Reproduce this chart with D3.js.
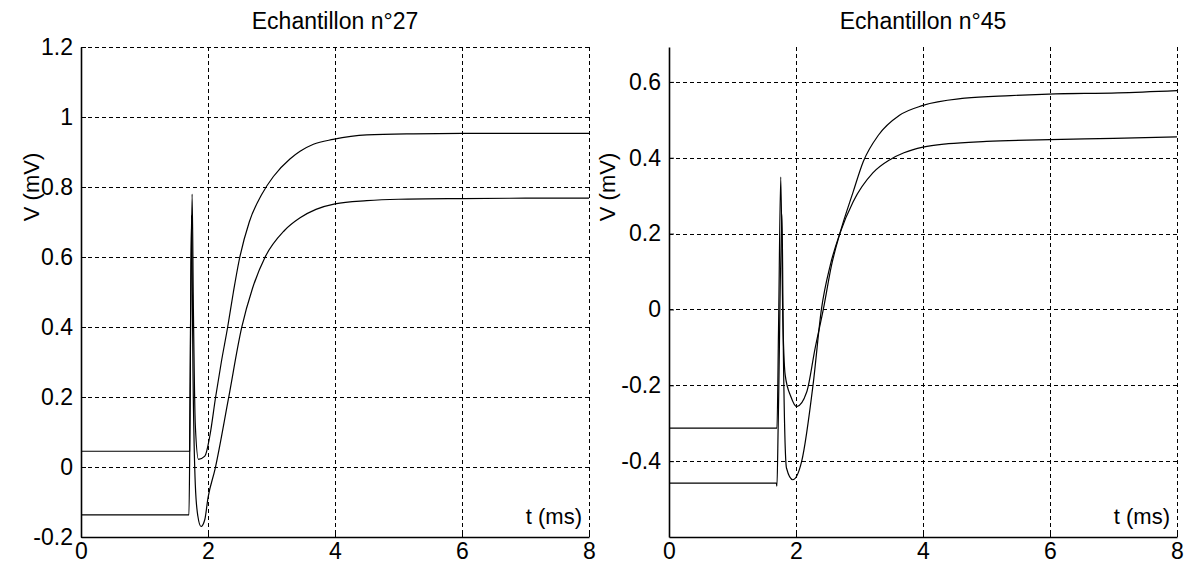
<!DOCTYPE html>
<html>
<head>
<meta charset="utf-8">
<script src="https://cdn.jsdelivr.net/npm/d3@7"></script>
<style>
  html, body { margin: 0; padding: 0; background: #fff; }
  svg { display: block; }
  text { font-family: "Liberation Sans", Arial, Helvetica, sans-serif; fill: #000; }
</style>
</head>
<body>
<svg id="chart" width="1189" height="570"></svg>
<script>
// ---------- DATA ----------
const titles = ["Echantillon n°27", "Echantillon n°45"];
const xLabel = "t (ms)";
const yLabel = "V (mV)";
const xTicks = [0, 2, 4, 6, 8];
const leftYTicks = [-0.2, 0, 0.2, 0.4, 0.6, 0.8, 1, 1.2];
const rightYTicks = [-0.4, -0.2, 0, 0.2, 0.4, 0.6];
const xDomain = [0, 8];
const leftYDomain = [-0.2, 1.2];
const rightYDomain = [-0.6, 0.692];

// Left panel (n°27) - upper curve
const leftUpperT = [0, 1.71, 1.725, 1.75, 1.77, 1.80, 1.85, 1.95, 2.03, 2.12, 2.21, 2.31, 2.40, 2.49, 2.65, 2.85, 3.03, 3.29, 3.45, 3.66, 3.97, 4.5, 5.23, 6.0, 6.91, 8.0];
const leftUpperV = [0.045, 0.045, 0.40, 0.78, 0.45, 0.12, 0.022, 0.031, 0.09, 0.20, 0.30, 0.40, 0.50, 0.59, 0.70, 0.78, 0.83, 0.88, 0.902, 0.922, 0.936, 0.949, 0.952, 0.953, 0.953, 0.953];
// Left panel (n°27) - lower curve
const leftLowerT = [0, 1.70, 1.715, 1.74, 1.765, 1.80, 1.84, 1.89, 1.95, 2.00, 2.11, 2.32, 2.53, 2.70, 2.90, 3.20, 3.45, 3.70, 4.0, 4.5, 5.0, 6.0, 7.0, 8.0];
const leftLowerV = [-0.137, -0.137, 0.10, 0.72, 0.25, -0.05, -0.14, -0.17, -0.15, -0.088, -0.007, 0.193, 0.398, 0.51, 0.60, 0.675, 0.712, 0.736, 0.752, 0.761, 0.765, 0.767, 0.768, 0.768];
// Right panel (n°45) - upper curve
const rightUpperT = [0, 1.70, 1.725, 1.76, 1.79, 1.83, 1.92, 2.01, 2.17, 2.30, 2.43, 2.56, 2.69, 2.90, 3.06, 3.30, 3.63, 4.0, 4.66, 5.38, 5.98, 7.07, 8.0];
const rightUpperV = [-0.313, -0.313, -0.05, 0.349, 0.0, -0.173, -0.23, -0.256, -0.217, -0.103, 0, 0.117, 0.20, 0.31, 0.39, 0.46, 0.512, 0.538, 0.557, 0.564, 0.568, 0.571, 0.577];
// Right panel (n°45) - lower curve
const rightLowerT = [0, 1.69, 1.70, 1.72, 1.78, 1.80, 1.85, 1.95, 2.09, 2.27, 2.40, 2.54, 2.69, 2.90, 3.21, 3.48, 3.70, 4.0, 4.4, 5.0, 6.0, 7.0, 8.0];
const rightLowerV = [-0.458, -0.458, -0.466, -0.30, 0.25, -0.10, -0.418, -0.449, -0.40, -0.197, 0, 0.117, 0.20, 0.284, 0.36, 0.395, 0.413, 0.428, 0.437, 0.443, 0.448, 0.451, 0.455];

// ---------- DRAW ----------
const svg = d3.select("#chart");
const fmt = d => { const r = Math.round(d * 10) / 10; return r === 0 ? "0" : String(r); };

const panels = [
  { title: titles[0], yDomain: leftYDomain, yTicks: leftYTicks, x0: 81, x1: 589,
    series: [[leftUpperT, leftUpperV], [leftLowerT, leftLowerV]], ylabX: 32 },
  { title: titles[1], yDomain: rightYDomain, yTicks: rightYTicks, x0: 669, x1: 1177,
    series: [[rightUpperT, rightUpperV], [rightLowerT, rightLowerV]], ylabX: 608 }
];
const yTop = 47, yBot = 537;

panels.forEach(p => {
  const x = d3.scaleLinear().domain(xDomain).range([p.x0, p.x1]);
  const y = d3.scaleLinear().domain(p.yDomain).range([yBot, yTop]);
  const g = svg.append("g");

  // grid
  const grid = g.append("g").attr("stroke", "#000").attr("stroke-width", 1)
    .attr("stroke-dasharray", "4,3").attr("shape-rendering", "crispEdges");
  grid.selectAll("line.h").data(p.yTicks.filter(v => y(v) < yBot - 1)).join("line")
    .attr("x1", p.x0).attr("x2", p.x1).attr("y1", d => Math.round(y(d)) + 0.5).attr("y2", d => Math.round(y(d)) + 0.5);
  grid.selectAll("line.v").data(xTicks.filter(v => v > 0)).join("line")
    .attr("y1", yTop).attr("y2", yBot).attr("x1", d => Math.round(x(d)) + 0.5).attr("x2", d => Math.round(x(d)) + 0.5);

  // axes
  const ax = d3.axisBottom(x).tickValues(xTicks).tickSizeInner(-5).tickSizeOuter(0).tickPadding(6).tickFormat(fmt);
  const ay = d3.axisLeft(y).tickValues(p.yTicks).tickSizeInner(-5).tickSizeOuter(0).tickPadding(8).tickFormat(fmt);
  const gx = g.append("g").attr("transform", `translate(0,${yBot})`).call(ax);
  const gy = g.append("g").attr("transform", `translate(${p.x0},0)`).call(ay);
  [gx, gy].forEach(a => {
    a.select(".domain").attr("stroke", "#000").attr("stroke-width", 1.6);
    a.selectAll(".tick line").attr("stroke", "#000").attr("stroke-width", 1);
    a.selectAll(".tick text").attr("font-size", 23).attr("font-family", "'Liberation Sans', Arial, sans-serif").attr("fill", "#000");
  });

  // curves
  const line = d3.line().x(d => x(d[0])).y(d => y(d[1])).curve(d3.curveMonotoneX);
  p.series.forEach(([ts, vs]) => {
    const pts = ts.map((t, i) => [t, vs[i]]);
    g.append("path").datum(pts).attr("d", line).attr("fill", "none")
      .attr("stroke", "#000").attr("stroke-width", 1.2).attr("stroke-linejoin", "round");
  });

  // title
  g.append("text").attr("x", (p.x0 + p.x1) / 2).attr("y", 29).attr("text-anchor", "middle")
    .attr("font-size", 23).text(p.title);
  // x label inside plot
  g.append("text").attr("x", p.x1 - 7).attr("y", 524).attr("text-anchor", "end")
    .attr("font-size", 22).text(xLabel);
  // y label
  g.append("text").attr("transform", `translate(${p.ylabX + 7},187) rotate(-90)`)
    .attr("text-anchor", "middle").attr("font-size", 22).text(yLabel);
});
</script>
</body>
</html>
